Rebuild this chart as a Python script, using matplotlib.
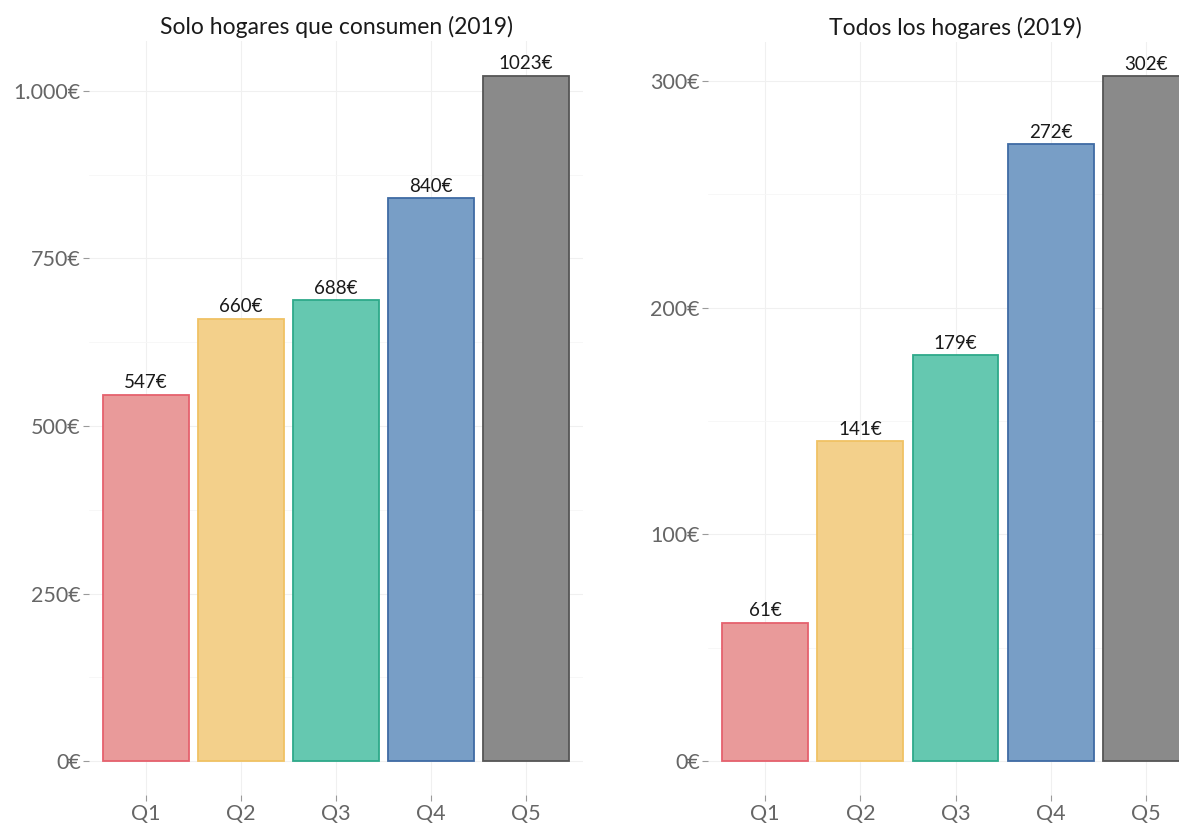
import matplotlib
matplotlib.use("Agg")
import matplotlib.pyplot as plt
from matplotlib.ticker import FuncFormatter, MultipleLocator

categories = ["Q1", "Q2", "Q3", "Q4", "Q5"]
consumers_2019 = [547, 660, 688, 840, 1023]
all_households_2019 = [61, 141, 179, 272, 302]
titles = ["Solo hogares que consumen (2019)", "Todos los hogares (2019)"]
left_ticks = [0, 250, 500, 750, 1000]
right_ticks = [0, 100, 200, 300]

fills = ["#e99a9a", "#f3d08b", "#65c8b0", "#789ec6", "#8a8a8a"]
edges = ["#e5616d", "#f0c264", "#2ea98a", "#3f6ba4", "#555555"]

plt.rcParams['font.family'] = ['Lato', 'DejaVu Sans']

W, H = 1179, 823
fig = plt.figure(figsize=(W / 100, H / 100), dpi=100)

def fmt(v, pos):
    s = f"{int(round(v)):,}".replace(",", ".")
    return s + "€"

def panel(rect_px, values, ticks, title, minor_step):
    x0, x1, ytop, ybot = rect_px
    ax = fig.add_axes([x0 / W, (H - ybot) / H, (x1 - x0) / W, (ybot - ytop) / H])
    xs = list(range(1, len(categories) + 1))
    ax.bar(xs, values, width=0.9, color=fills, edgecolor=edges, linewidth=1.3, zorder=3)
    for x, v in zip(xs, values):
        ax.annotate(f"{v}€", (x, v), xytext=(0, 2.5), textcoords="offset points",
                    ha="center", va="bottom", fontsize=13.5, color="#1a1a1a", zorder=4)
    vmax = max(values)
    ax.set_xlim(0.4, len(categories) + 0.6)
    ax.set_ylim(-0.05 * vmax, 1.05 * vmax)
    ax.set_xticks(xs)
    ax.set_xticklabels(categories)
    ax.set_yticks(ticks)
    ax.yaxis.set_major_formatter(FuncFormatter(fmt))
    ax.yaxis.set_minor_locator(MultipleLocator(minor_step))
    for s in ax.spines.values():
        s.set_visible(False)
    ax.grid(True, which="major", color="#f0f0f0", linewidth=0.8, zorder=0)
    ax.grid(True, which="minor", axis="y", color="#f6f6f6", linewidth=0.6, zorder=0)
    ax.tick_params(axis="both", which="major", length=4, width=0.8, color="#9a9a9a",
                   labelsize=15.5, labelcolor="#666666", pad=2)
    ax.tick_params(axis="both", which="minor", length=0)
    ax.set_title(title, fontsize=16.5, color="#1a1a1a", pad=5)
    return ax

panel((89, 583, 41.3, 795.3), consumers_2019, left_ticks, titles[0], 125)
panel((708, 1203, 42.2, 795.2), all_households_2019, right_ticks, titles[1], 50)

fig.savefig("out.png", dpi=100, facecolor="white")
